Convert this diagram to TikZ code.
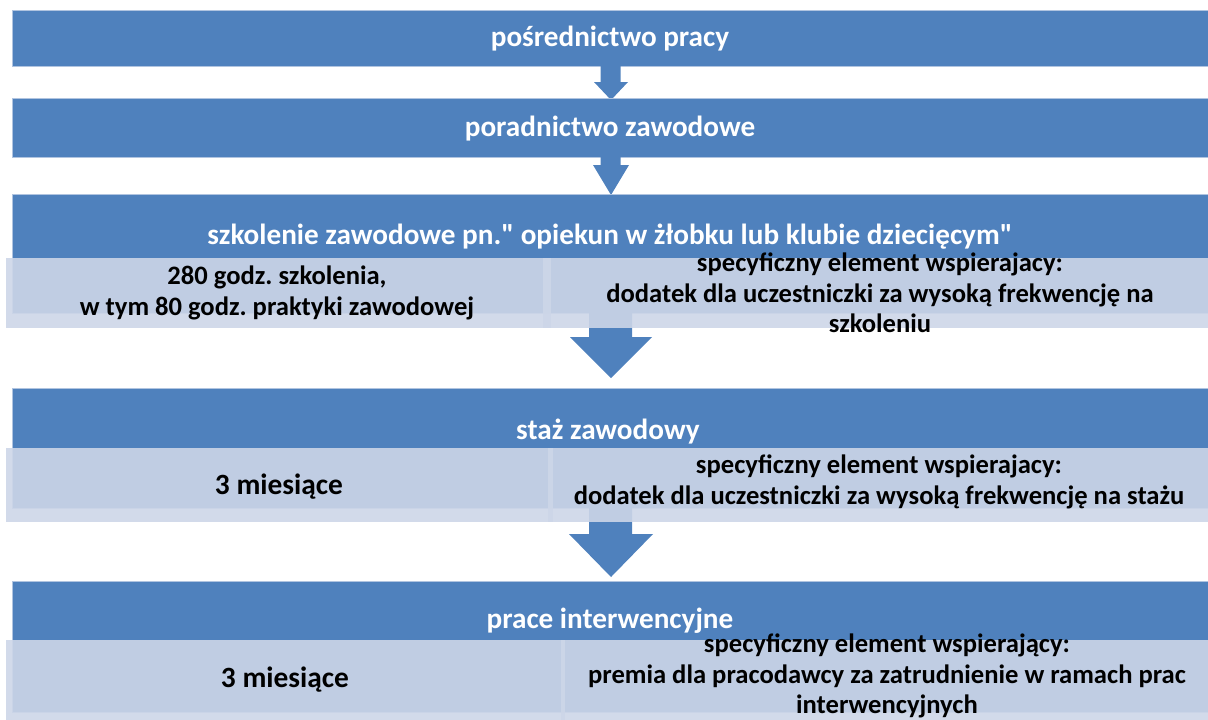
\documentclass[tikz,border=0pt]{standalone}
\usepackage{fontspec}
\setmainfont{Carlito}[Ligatures=TeXOff]
\frenchspacing
\definecolor{bandblue}{RGB}{79,129,189}
\definecolor{subfill}{RGB}{205,214,232}
\definecolor{bandedge}{RGB}{176,196,224}
\tikzset{
  band/.style={fill=bandblue, draw=bandedge, line width=0.5pt},
  subbox/.style={fill=subfill, fill opacity=0.9},
  blockarrow/.style={fill=bandblue},
  titletext/.style={text=white, font=\fontsize{14.6}{17}\selectfont\bfseries, inner sep=0pt},
  subtext/.style={text=black, font=\fontsize{13.3}{15.2}\selectfont\bfseries, align=center, inner sep=0pt},
  bigtext/.style={text=black, font=\fontsize{14.7}{17}\selectfont\bfseries, inner sep=0pt}
}
\begin{document}
\begin{tikzpicture}[x=0.5pt,y=-0.5pt]
\useasboundingbox (0,0) rectangle (1208,719);
% band 1 and arrow 1
\path[band] (12,10) rectangle (1212,66);
\path[blockarrow] (600.5,64) -- (620.5,64) -- (620.5,82) -- (628,82) -- (611,100) -- (594,82) -- (600.5,82) -- cycle;
% band 2 and arrow 2
\path[band] (12,98) rectangle (1212,157);
\path[blockarrow] (600.5,155) -- (620.5,155) -- (620.5,165) -- (629,165) -- (611,195) -- (593,165) -- (600.5,165) -- cycle;
% section 3
\path[band] (12,194) rectangle (1212,313);
\path[blockarrow] (589,300) -- (632,300) -- (632,337) -- (652,337) -- (611,378) -- (570,337) -- (589,337) -- cycle;
\path[subbox] (6,258) rectangle (551,328);
\path[subbox] (543,258) rectangle (1216,328);
% section 4
\path[band] (12,388) rectangle (1212,508);
\path[blockarrow] (589,500) -- (632,500) -- (632,534) -- (653,534) -- (611,577) -- (569,534) -- (589,534) -- cycle;
\path[subbox] (6,448) rectangle (553,522);
\path[subbox] (548,448) rectangle (1216,522);
% section 5
\path[band] (12,581) rectangle (1212,712);
\path[subbox] (6,640) rectangle (565,720);
\path[subbox] (561,640) rectangle (1216,720);
% texts
\node[titletext] (t1) at (610,39) {pośrednictwo pracy};
\node[titletext] (t2) at (610,129) {poradnictwo zawodowe};
\node[titletext] (t3) at (610,237) {szkolenie zawodowe pn." opiekun w żłobku lub klubie dziecięcym"};
\node[titletext] (t4) at (608,432) {staż zawodowy};
\node[titletext] (t5) at (610,621) {prace interwencyjne};
\node[subtext] (s3a) at (277,293) {280 godz. szkolenia,\\ w tym 80 godz. praktyki zawodowej};
\node[subtext] (s3b) at (880,293) {specyficzny element wspierajacy:\\ dodatek dla uczestniczki za wysoką frekwencję na\\ szkoleniu};
\node[bigtext] (s4a) at (279,487) {3 miesiące};
\node[subtext] (s4b) at (879,482) {specyficzny element wspierajacy:\\ dodatek dla uczestniczki za wysoką frekwencję na stażu};
\node[bigtext] (s5a) at (285,680) {3 miesiące};
\node[subtext] (s5b) at (887,676) {specyficzny element wspierający:\\ premia dla pracodawcy za zatrudnienie w ramach prac\\ interwencyjnych};
\end{tikzpicture}
\end{document}
